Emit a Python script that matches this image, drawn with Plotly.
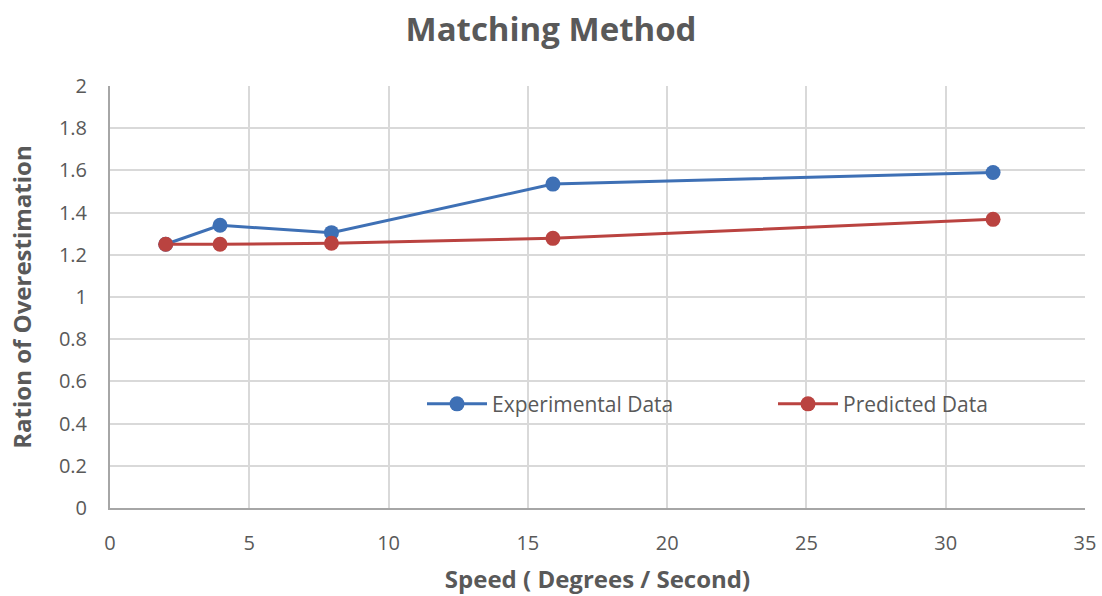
import plotly.graph_objects as go

speed = [2.0, 3.95, 7.95, 15.9, 31.7]
experimental = [1.25, 1.34, 1.305, 1.535, 1.59]
predicted = [1.25, 1.25, 1.255, 1.278, 1.368]

blue = "#3E70B5"
red = "#BA4340"
txt = "#595959"
fam = "Open Sans"

fig = go.Figure()
fig.add_trace(go.Scatter(x=speed, y=experimental, mode="lines+markers", name="Experimental Data",
                         line=dict(color=blue, width=3), marker=dict(color=blue, size=15),
                         legend="legend", showlegend=True))
fig.add_trace(go.Scatter(x=speed, y=predicted, mode="lines+markers", name="Predicted Data",
                         line=dict(color=red, width=3), marker=dict(color=red, size=15),
                         legend="legend2", showlegend=True))

leg = dict(orientation="h", yanchor="middle", xanchor="left", y=0.246, visible=True,
           bgcolor="rgba(0,0,0,0)", font=dict(family=fam, size=21, color=txt),
           itemwidth=60)

fig.update_layout(
    width=1102, height=596,
    showlegend=True,
    margin=dict(l=110, r=17, t=86, b=88, autoexpand=False),
    paper_bgcolor="white", plot_bgcolor="white",
    font=dict(family=fam, color=txt, size=20),
    title=dict(text="<b>Matching Method</b>", x=0.5, xanchor="center", y=0.95, yanchor="middle",
               font=dict(family=fam, size=33, color=txt)),
    legend=dict(leg, x=0.32),
    legend2=dict(leg, x=0.68),
    xaxis=dict(range=[0, 35], dtick=5, showgrid=True, gridcolor="#D9D9D9", gridwidth=2,
               zeroline=False, showline=True, linecolor="#A6A6A6", linewidth=2,
               ticks="outside", ticklen=16, tickcolor="rgba(0,0,0,0)",
               tickfont=dict(family=fam, size=20, color=txt),
               title=dict(text="<b>Speed ( Degrees / Second)</b>", font=dict(family=fam, size=24, color=txt), standoff=16)),
    yaxis=dict(range=[0, 2], dtick=0.2, showgrid=True, gridcolor="#D9D9D9", gridwidth=2,
               zeroline=False, showline=True, linecolor="#A6A6A6", linewidth=2,
               ticks="outside", ticklen=17, tickcolor="rgba(0,0,0,0)",
               tickfont=dict(family=fam, size=20, color=txt),
               title=dict(text="<b>Ration of Overestimation</b>", font=dict(family=fam, size=24, color=txt), standoff=20)),
)
fig.write_html("out.html")
